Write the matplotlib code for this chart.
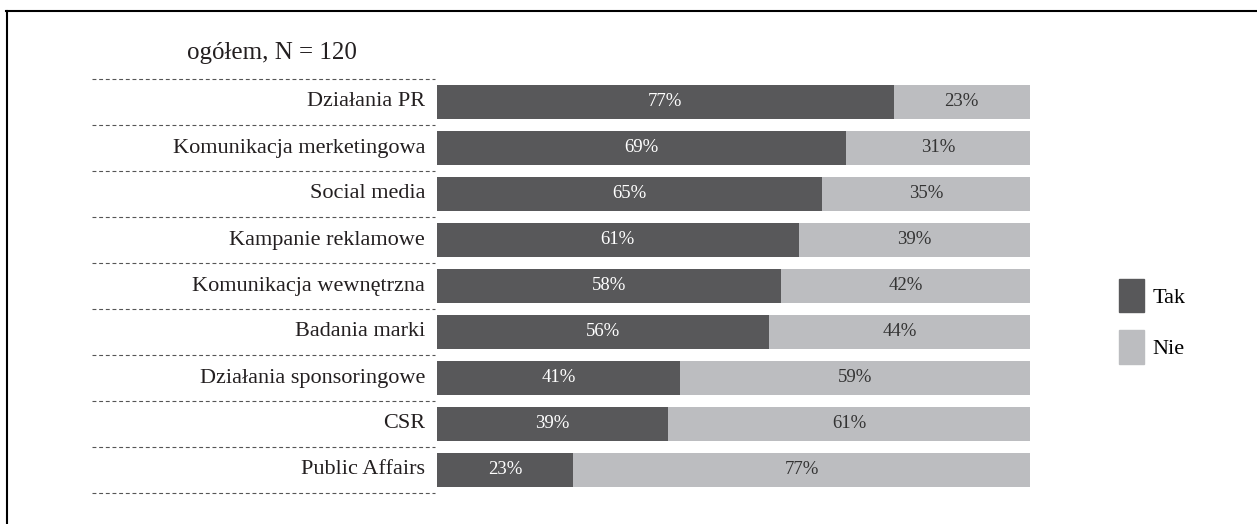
import matplotlib.pyplot as plt
from matplotlib.patches import Patch
from matplotlib.lines import Line2D
from matplotlib.transforms import blended_transform_factory

# Dane: odsetek odpowiedzi "Tak" / "Nie", ogółem N = 120
kategorie = [
    "Działania PR",
    "Komunikacja merketingowa",
    "Social media",
    "Kampanie reklamowe",
    "Komunikacja wewnętrzna",
    "Badania marki",
    "Działania sponsoringowe",
    "CSR",
    "Public Affairs",
]
tak = [77, 69, 65, 61, 58, 56, 41, 39, 23]
nie = [23, 31, 35, 39, 42, 44, 59, 61, 77]
tytul = "ogółem, N = 120"

ciemny = "#58585a"
jasny = "#bcbdc0"

plt.rcParams["font.family"] = ["Liberation Serif", "DejaVu Serif"]

fig = plt.figure(figsize=(12.57, 5.24), dpi=100)
W, H = 1257, 524
ax = fig.add_axes([437 / W, 1 - 493 / H, (1030 - 437) / W, (493 - 79) / H])
tr = blended_transform_factory(ax.transAxes, ax.transData)

y = list(range(len(kategorie)))
ax.barh(y, tak, height=0.72, color=ciemny, label="Tak")
ax.barh(y, nie, left=tak, height=0.72, color=jasny, label="Nie")

# etykiety wartości na słupkach i nazwy kategorii
for i in y:
    ax.text(tak[i] / 2, i, f"{tak[i]}%", ha="center", va="center",
            color="white", fontsize=13.5)
    ax.text(tak[i] + nie[i] / 2, i, f"{nie[i]}%", ha="center", va="center",
            color="#333333", fontsize=13.5)
    ax.text(-0.02, i, kategorie[i], ha="right", va="center", fontsize=16,
            color="#231f20", transform=tr)

# przerywane linie oddzielające kategorie
for k in range(len(kategorie) + 1):
    ax.add_line(Line2D([-0.582, -0.004], [k - 0.5, k - 0.5], transform=tr,
                       color="#555555", lw=0.8, dashes=(3.5, 2.5), clip_on=False))

ax.set_xlim(0, 100)
ax.set_ylim(len(kategorie) - 0.5, -0.5)
ax.axis("off")

fig.text(187 / W, 1 - 59 / H, tytul, ha="left", va="baseline", fontsize=18, color="#231f20")

# legenda
uchwyty = [Patch(color=ciemny, label="Tak"), Patch(color=jasny, label="Nie")]
fig.legend(handles=uchwyty, loc="upper left", bbox_to_anchor=(1119 / W, 1 - 279 / H),
           frameon=False, fontsize=16, handlelength=1.14, handleheight=1.93,
           handletextpad=0.35, labelspacing=0.81, borderpad=0, borderaxespad=0)

# ramka: górna i lewa krawędź
fig.add_artist(Line2D([6 / W, 1], [1 - 10.5 / H, 1 - 10.5 / H], color="black", lw=1.5))
fig.add_artist(Line2D([6.5 / W, 6.5 / W], [0, 1 - 10.5 / H], color="black", lw=1.5))

fig.savefig("out.png", dpi=100)
